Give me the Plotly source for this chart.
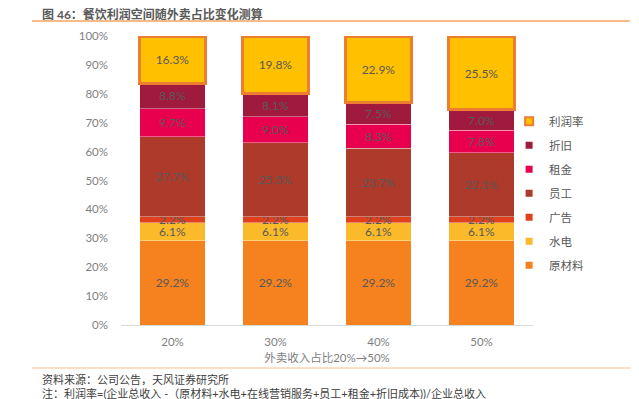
import plotly.graph_objects as go

categories = ["20%", "30%", "40%", "50%"]
raw_material = [29.2, 29.2, 29.2, 29.2]
utilities = [6.1, 6.1, 6.1, 6.1]
advertising = [2.2, 2.2, 2.2, 2.2]
staff = [27.7, 25.5, 23.7, 22.1]
rent = [9.7, 9.0, 8.3, 7.8]
depreciation = [8.8, 8.1, 7.5, 7.0]
profit = [16.3, 19.8, 22.9, 25.5]

y_ticks = [0, 10, 20, 30, 40, 50, 60, 70, 80, 90, 100]
y_tick_labels = [f"{v}%" for v in y_ticks]

series = [
    ("原材料", raw_material, "#F5821F"),
    ("水电", utilities, "#FBBA2A"),
    ("广告", advertising, "#E0401C"),
    ("员工", staff, "#AD3A2A"),
    ("租金", rent, "#E8004F"),
    ("折旧", depreciation, "#A01A3D"),
    ("利润率", profit, "#FFC000"),
]

FONT = "Lato, 'Noto Sans CJK SC', sans-serif"
PROFIT_EDGE = "#ED7D31"
fig = go.Figure()
for name, vals, color in series:
    is_profit = name == "利润率"
    fig.add_trace(go.Bar(
        name=name,
        x=categories,
        y=vals,
        showlegend=False,
        marker=dict(
            color=color,
            line=dict(color=PROFIT_EDGE if is_profit else "rgba(255,255,255,0.45)",
                      width=3 if is_profit else 0.8),
        ),
        text=[f"{v:.1f}%" for v in vals],
        textposition="inside",
        insidetextanchor="middle",
        textangle=0,
        textfont=dict(color="#595959", size=12, family=FONT),
        hoverinfo="skip",
    ))

# legend entries with small square keys (top to bottom: 利润率 ... 原材料)
for name, vals, color in reversed(series):
    is_profit = name == "利润率"
    fig.add_trace(go.Scatter(
        name=name, x=[None], y=[None], mode="markers",
        legendgroup=name,
        marker=dict(symbol="square", size=8 if is_profit else 7, color=color,
                    line=dict(color=PROFIT_EDGE if is_profit else color,
                              width=2 if is_profit else 0)),
        hoverinfo="skip",
    ))

fig.update_layout(
    barmode="stack",
    bargap=0.36,
    width=631,
    height=391,
    margin=dict(l=113, r=106, t=28, b=74),
    plot_bgcolor="white",
    paper_bgcolor="white",
    font=dict(family=FONT, size=11, color="#7F7F7F"),
    uniformtext=dict(minsize=12, mode="show"),
    showlegend=True,
    legend=dict(
        x=0.942, y=0.755, xanchor="left", yanchor="top",
        traceorder="grouped",
        tracegroupgap=5,
        font=dict(size=11.5, color="#595959", family=FONT),
        bgcolor="rgba(0,0,0,0)",
        itemwidth=30,
    ),
    xaxis=dict(
        type="category",
        showline=True, linecolor="#D9D9D9", linewidth=1,
        ticks="", showgrid=False, ticklabelstandoff=6,
        tickfont=dict(size=11.5, color="#7F7F7F"),
        title=dict(text="外卖收入占比20%→50%", font=dict(size=11.5, color="#7F7F7F"), standoff=7),
    ),
    yaxis=dict(
        range=[0, 100],
        tickvals=y_ticks,
        ticktext=y_tick_labels,
        showgrid=False, zeroline=False, showline=False,
        ticks="", ticklabelstandoff=12,
        tickfont=dict(size=11.5, color="#7F7F7F"),
    ),
    shapes=[
        dict(type="line", xref="paper", yref="paper",
             x0=-0.216, x1=1.235, y0=1.0 + 15/289, y1=1.0 + 15/289,
             line=dict(color="#F7A35C", width=1.5)),
        dict(type="line", xref="paper", yref="paper",
             x0=-0.216, x1=1.24, y0=-43/289, y1=-43/289,
             line=dict(color="#FBD5B5", width=1.5)),
    ],
    annotations=[
        dict(text="<b>图 46：餐饮利润空间随外卖占比变化测算</b>", xref="paper", yref="paper",
             x=-0.196, y=1.0 + 21.5/289, xanchor="left", yanchor="middle", showarrow=False,
             font=dict(size=12, color="#595959", family=FONT)),
        dict(text="资料来源：公司公告，天风证券研究所", xref="paper", yref="paper",
             x=-0.196, y=-54/289, xanchor="left", yanchor="middle", showarrow=False,
             font=dict(size=11, color="#404040", family=FONT)),
        dict(text="注：利润率=(企业总收入 -（原材料+水电+在线营销服务+员工+租金+折旧成本))/企业总收入",
             xref="paper", yref="paper",
             x=-0.196, y=-68/289, xanchor="left", yanchor="middle", showarrow=False,
             font=dict(size=11, color="#404040", family=FONT)),
    ],
)

fig.write_html("out.html")
